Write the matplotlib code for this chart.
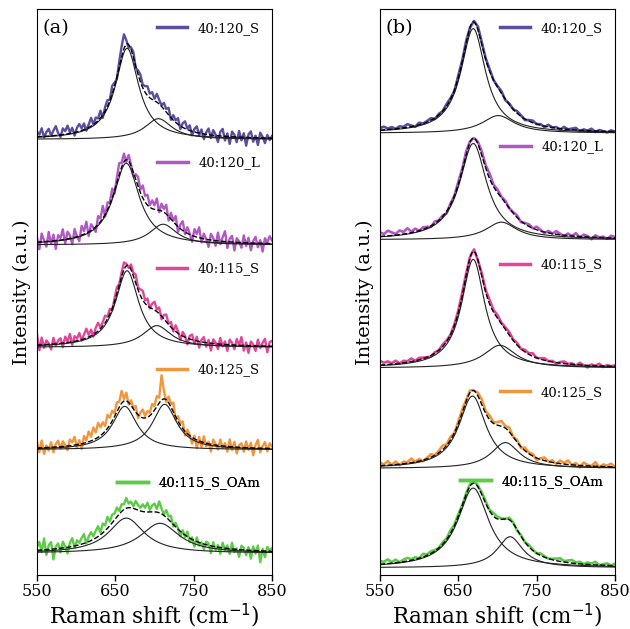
import numpy as np
import matplotlib.pyplot as plt

plt.rcParams['font.family'] = 'DejaVu Serif'

labels = ['40:120_S', '40:120_L', '40:115_S', '40:125_S', '40:115_S_OAm']
colors = ['#5c4d9e', '#b257c4', '#e0479b', '#f0963c', '#5ccb46']

# measured grids (cm-1) for the data arrays
shift_a = np.arange(550, 851, 3)
shift_b = np.arange(550, 851, 5)

# two Lorentzian components per spectrum: centre, FWHM, height
a_c1 = [665, 664, 665, 662, 664]
a_w1 = [36, 40, 36, 38, 55]
a_h1 = [0.88, 0.79, 0.74, 0.42, 0.34]
a_c2 = [705, 711, 703, 713, 707]
a_w2 = [42, 42, 44, 38, 60]
a_h2 = [0.20, 0.20, 0.21, 0.44, 0.29]
a_off = [4.0, 2.98, 1.99, 1.0, 0.0]
a_leg = [0.966, 0.728, 0.541, 0.362, 0.163]

b_c1 = [669, 669, 669, 668, 669]
b_w1 = [38, 42, 36, 42, 48]
b_h1 = [1.01, 0.93, 1.05, 0.70, 0.77]
b_c2 = [701, 705, 703, 710, 716]
b_w2 = [50, 48, 50, 44, 40]
b_h2 = [0.17, 0.17, 0.22, 0.25, 0.30]
b_off = [4.06, 3.03, 1.79, 0.82, -0.14]
b_leg = [0.966, 0.756, 0.548, 0.323, 0.165]

# deviations of the measured spectra from the fitted sum
a_res = [
    [0.05, 0.02, 0.08, -0.01, 0.04, 0.07, 0.00, 0.05, 0.09, 0.02,
     -0.02, 0.06, 0.03, 0.08, 0.01, 0.05, -0.03, 0.04, 0.07, 0.02,
     0.06, -0.02, 0.03, 0.08, 0.00, 0.05, 0.02, 0.07, -0.03, 0.04,
     0.06, 0.01, 0.08, 0.03, -0.02, 0.05, 0.10, 0.14, 0.04, -0.03,
     0.02, 0.05, -0.02, 0.04, 0.07, 0.03, 0.06, 0.09, 0.04, 0.07,
     0.02, 0.08, 0.04, 0.01, 0.06, 0.03, 0.07, -0.02, 0.05, 0.02,
     0.06, -0.03, 0.04, 0.07, 0.01, 0.05, -0.04, 0.03, 0.06, -0.02,
     0.04, -0.05, 0.02, 0.06, -0.03, 0.05, 0.01, -0.06, 0.04, 0.07,
     -0.04, 0.03, -0.07, 0.05, 0.02, -0.05, 0.06, -0.03, 0.04, -0.08,
     0.03, 0.06, -0.04, 0.02, -0.07, 0.05, 0.01, -0.05, 0.03, -0.02,
     0.02],
    [0.04, -0.07, 0.08, 0.01, -0.05, 0.09, -0.03, 0.06, -0.08, 0.05,
     0.02, 0.10, -0.04, 0.07, 0.03, -0.06, 0.08, 0.00, -0.05, 0.09,
     0.03, 0.11, -0.04, 0.06, 0.01, -0.05, 0.08, 0.03, 0.12, -0.02,
     0.07, 0.02, 0.09, -0.03, 0.05, 0.11, 0.04, 0.08, -0.02, 0.06,
     0.01, -0.04, 0.05, 0.09, 0.03, 0.12, 0.06, 0.10, 0.02, 0.08,
     0.04, 0.11, -0.02, 0.07, 0.03, 0.09, -0.04, 0.06, 0.01, 0.08,
     -0.05, 0.04, 0.09, -0.02, 0.06, 0.01, -0.06, 0.07, 0.03, 0.10,
     -0.04, 0.05, 0.00, -0.07, 0.06, 0.02, -0.05, 0.08, -0.03, 0.04,
     0.10, -0.06, 0.03, 0.06, -0.08, 0.04, 0.01, -0.05, 0.07, -0.03,
     0.05, -0.07, 0.02, 0.06, -0.04, 0.03, -0.08, 0.05, 0.01, 0.07,
     0.03],
    [0.10, -0.05, 0.07, -0.03, 0.04, 0.01, -0.05, 0.06, -0.02, 0.03,
     0.05, -0.04, 0.06, 0.01, 0.08, -0.03, 0.05, 0.02, 0.07, -0.01,
     0.04, 0.09, 0.02, 0.06, -0.02, 0.05, 0.08, 0.01, 0.04, 0.07,
     0.02, 0.05, -0.02, 0.03, 0.06, 0.01, 0.04, 0.07, 0.02, -0.02,
     0.05, 0.03, 0.08, 0.02, 0.06, 0.09, 0.03, 0.07, -0.01, 0.05,
     0.08, 0.02, 0.06, -0.03, 0.04, 0.07, 0.01, 0.05, -0.02, 0.06,
     0.02, -0.05, 0.04, 0.01, -0.06, 0.03, 0.05, -0.03, 0.04, -0.06,
     0.02, 0.05, -0.04, 0.03, -0.07, 0.04, 0.01, -0.05, 0.06, -0.02,
     0.03, -0.06, 0.05, 0.02, -0.04, 0.06, 0.00, 0.08, -0.05, 0.03,
     -0.07, 0.04, 0.01, -0.05, 0.06, -0.02, 0.03, 0.07, -0.06, 0.04,
     0.05],
    [0.06, -0.04, 0.07, -0.06, 0.02, -0.03, 0.05, -0.05, 0.03, 0.06,
     -0.02, 0.05, 0.01, -0.04, 0.06, 0.03, 0.08, -0.03, 0.04, -0.05,
     0.07, 0.02, 0.10, 0.04, 0.12, 0.06, 0.14, 0.08, 0.11, 0.05,
     0.13, 0.07, 0.10, 0.03, 0.09, 0.05, 0.12, 0.02, 0.08, -0.02,
     0.05, 0.01, 0.06, -0.03, 0.04, 0.08, 0.02, 0.06, 0.03, 0.09,
     0.04, 0.10, 0.05, 0.24, 0.08, -0.02, 0.06, 0.03, 0.09, -0.03,
     0.05, 0.02, 0.07, -0.04, 0.04, 0.01, -0.06, 0.03, -0.08, 0.04,
     -0.05, 0.06, -0.03, 0.02, -0.07, 0.05, 0.01, -0.04, 0.06, -0.02,
     0.03, -0.05, 0.07, -0.03, 0.05, -0.06, 0.02, 0.04, -0.04, 0.06,
     -0.02, 0.05, -0.07, 0.03, 0.08, -0.04, 0.02, 0.06, -0.03, 0.05,
     0.02],
    [0.03, 0.08, -0.02, 0.11, -0.05, 0.04, 0.07, -0.10, 0.02, 0.05,
     -0.04, 0.06, 0.01, -0.06, 0.04, 0.08, -0.02, 0.05, 0.02, 0.06,
     0.09, -0.01, 0.05, 0.08, 0.03, 0.07, 0.10, 0.02, 0.09, 0.05,
     0.11, 0.04, 0.08, 0.06, 0.09, 0.03, 0.07, 0.05, 0.10, 0.04,
     0.06, 0.02, 0.08, 0.05, 0.03, 0.07, 0.04, 0.09, 0.02, 0.06,
     0.08, 0.03, 0.11, 0.05, 0.01, 0.07, 0.03, 0.06, -0.02, 0.04,
     0.01, -0.05, 0.03, -0.02, 0.05, -0.04, 0.02, -0.06, 0.04, -0.03,
     0.01, -0.05, 0.03, 0.02, -0.07, 0.04, -0.03, 0.02, -0.06, 0.05,
     -0.02, 0.03, -0.05, 0.06, -0.03, 0.01, -0.07, 0.04, 0.02, -0.05,
     0.03, -0.08, 0.04, -0.03, 0.05, -0.11, 0.02, -0.06, 0.04, 0.01,
     0.03],
]

b_res = [
    [0.02, 0.03, 0.01, 0.02, 0.00, 0.02, 0.01, 0.03, 0.01, -0.01, 0.02, 0.00, 0.01, 0.02, -0.01, 0.01,
     0.00, 0.02, 0.01, -0.01, 0.02, 0.01, 0.02, 0.00, 0.01, 0.03, 0.02, 0.01, 0.02, 0.00, 0.01, 0.02,
     -0.01, 0.01, 0.00, 0.02, 0.01, -0.01, 0.01, 0.02, 0.00, 0.01, -0.01, 0.02, 0.00, 0.01, -0.01, 0.02,
     0.00, 0.01, 0.02, -0.01, 0.01, 0.00, 0.02, -0.01, 0.01, 0.00, -0.01, 0.01, 0.00],
    [0.04, 0.02, 0.05, 0.03, 0.01, 0.04, 0.02, 0.05, 0.01, 0.03, 0.00, 0.02, 0.01, -0.01, 0.02, 0.00,
     0.01, -0.02, 0.01, 0.00, 0.02, 0.01, 0.03, 0.01, 0.00, 0.02, 0.04, 0.03, 0.05, 0.02, 0.03, 0.01,
     0.02, 0.00, 0.01, 0.02, -0.01, 0.01, 0.02, 0.00, 0.03, 0.01, -0.01, 0.02, 0.00, 0.03, 0.01, -0.01,
     0.02, 0.00, 0.03, -0.01, 0.02, 0.01, -0.02, 0.02, 0.00, 0.01, -0.01, 0.02, 0.01],
    [0.04, 0.02, 0.03, 0.01, 0.03, 0.00, 0.02, 0.01, 0.03, 0.00, 0.02, 0.01, 0.00, -0.01, 0.01, 0.00,
     0.02, 0.01, 0.00, 0.01, 0.02, 0.03, 0.02, 0.01, 0.02, 0.00, 0.03, 0.02, 0.04, 0.02, 0.03, 0.01,
     0.02, 0.03, 0.01, 0.02, 0.00, 0.02, 0.01, 0.03, 0.00, 0.01, 0.02, 0.00, 0.01, -0.01, 0.01, 0.02,
     0.00, 0.01, -0.01, 0.02, 0.00, -0.02, 0.01, 0.00, 0.02, -0.01, 0.01, 0.00, 0.01],
    [0.03, 0.01, 0.04, 0.00, 0.03, -0.01, 0.02, 0.01, 0.04, 0.00, 0.02, -0.01, 0.01, 0.03, 0.00, 0.02,
     0.04, 0.01, 0.03, 0.00, 0.02, 0.03, 0.01, 0.02, 0.00, 0.03, 0.05, 0.02, 0.04, 0.01, 0.03, 0.05,
     0.02, 0.04, 0.00, 0.02, -0.01, 0.03, 0.01, 0.02, -0.02, 0.01, 0.03, 0.00, 0.02, -0.01, 0.03, 0.01,
     0.04, 0.00, 0.02, -0.02, 0.03, 0.01, 0.00, 0.04, -0.01, 0.02, 0.01, 0.03, 0.00],
    [0.03, 0.02, 0.04, 0.01, 0.03, 0.00, 0.02, 0.03, 0.01, 0.02, 0.00, 0.03, 0.01, 0.02, 0.01, 0.00,
     0.02, 0.01, 0.03, 0.01, 0.02, 0.00, 0.01, 0.02, 0.03, 0.01, 0.02, 0.02, 0.01, 0.03, 0.02, 0.01,
     0.00, 0.02, 0.01, -0.01, 0.01, 0.00, 0.02, 0.01, 0.00, 0.02, 0.01, 0.00, 0.01, 0.02, 0.03, 0.01,
     0.02, 0.03, 0.01, 0.02, 0.00, 0.02, 0.01, 0.03, 0.00, 0.01, 0.02, 0.00, 0.02],
]


def lorentz(x, c, w, h):
    return h / (1 + ((x - c) / (w / 2)) ** 2)


fig = plt.figure(figsize=(6.3, 6.29), dpi=100)
axa = fig.add_axes([37 / 630, 54 / 629, 235 / 630, 566 / 629])
axb = fig.add_axes([380 / 630, 54 / 629, 235 / 630, 566 / 629])

xs = np.linspace(550, 850, 601)
panels = [
    (axa, shift_a, a_c1, a_w1, a_h1, a_c2, a_w2, a_h2, a_off, a_leg, a_res, '(a)', 1.7),
    (axb, shift_b, b_c1, b_w1, b_h1, b_c2, b_w2, b_h2, b_off, b_leg, b_res, '(b)', 1.9),
]

for ax, shift, c1, w1, h1, c2, w2, h2, off, leg, res, tag, lw in panels:
    for i in range(5):
        data = (lorentz(shift, c1[i], w1[i], h1[i]) + lorentz(shift, c2[i], w2[i], h2[i])
                + np.array(res[i]) + off[i])
        ln, = ax.plot(shift, data, color=colors[i], lw=lw)
        p1 = lorentz(xs, c1[i], w1[i], h1[i])
        p2 = lorentz(xs, c2[i], w2[i], h2[i])
        ax.plot(xs, p1 + off[i], color='#222222', lw=0.8)
        ax.plot(xs, p2 + off[i], color='#222222', lw=0.8)
        ax.plot(xs, p1 + p2 + off[i], color='black', lw=1.0, ls='--')
        lg = ax.legend([ln], [labels[i]], loc='center right', bbox_to_anchor=(1.0, leg[i]),
                       frameon=False, fontsize=9.5, handlelength=2.3, borderaxespad=0.5)
        for h in lg.get_lines():
            h.set_linewidth(2.5)
        ax.add_artist(lg)
    ax.set_xlim(550, 850)
    ax.set_ylim(-0.21, 5.26)
    ax.set_xticks([550, 650, 750, 850])
    ax.set_yticks([])
    ax.tick_params(axis='x', labelsize=11.5, length=4, width=1, pad=2)
    ax.set_xlabel('Raman shift (cm$^{-1}$)', fontsize=15.5, labelpad=1)
    ax.set_ylabel('Intensity (a.u.)', fontsize=14, labelpad=4)
    ax.text(0.025, 0.966, tag, transform=ax.transAxes, fontsize=14, va='center', ha='left')

fig.savefig('out.png', dpi=100)
